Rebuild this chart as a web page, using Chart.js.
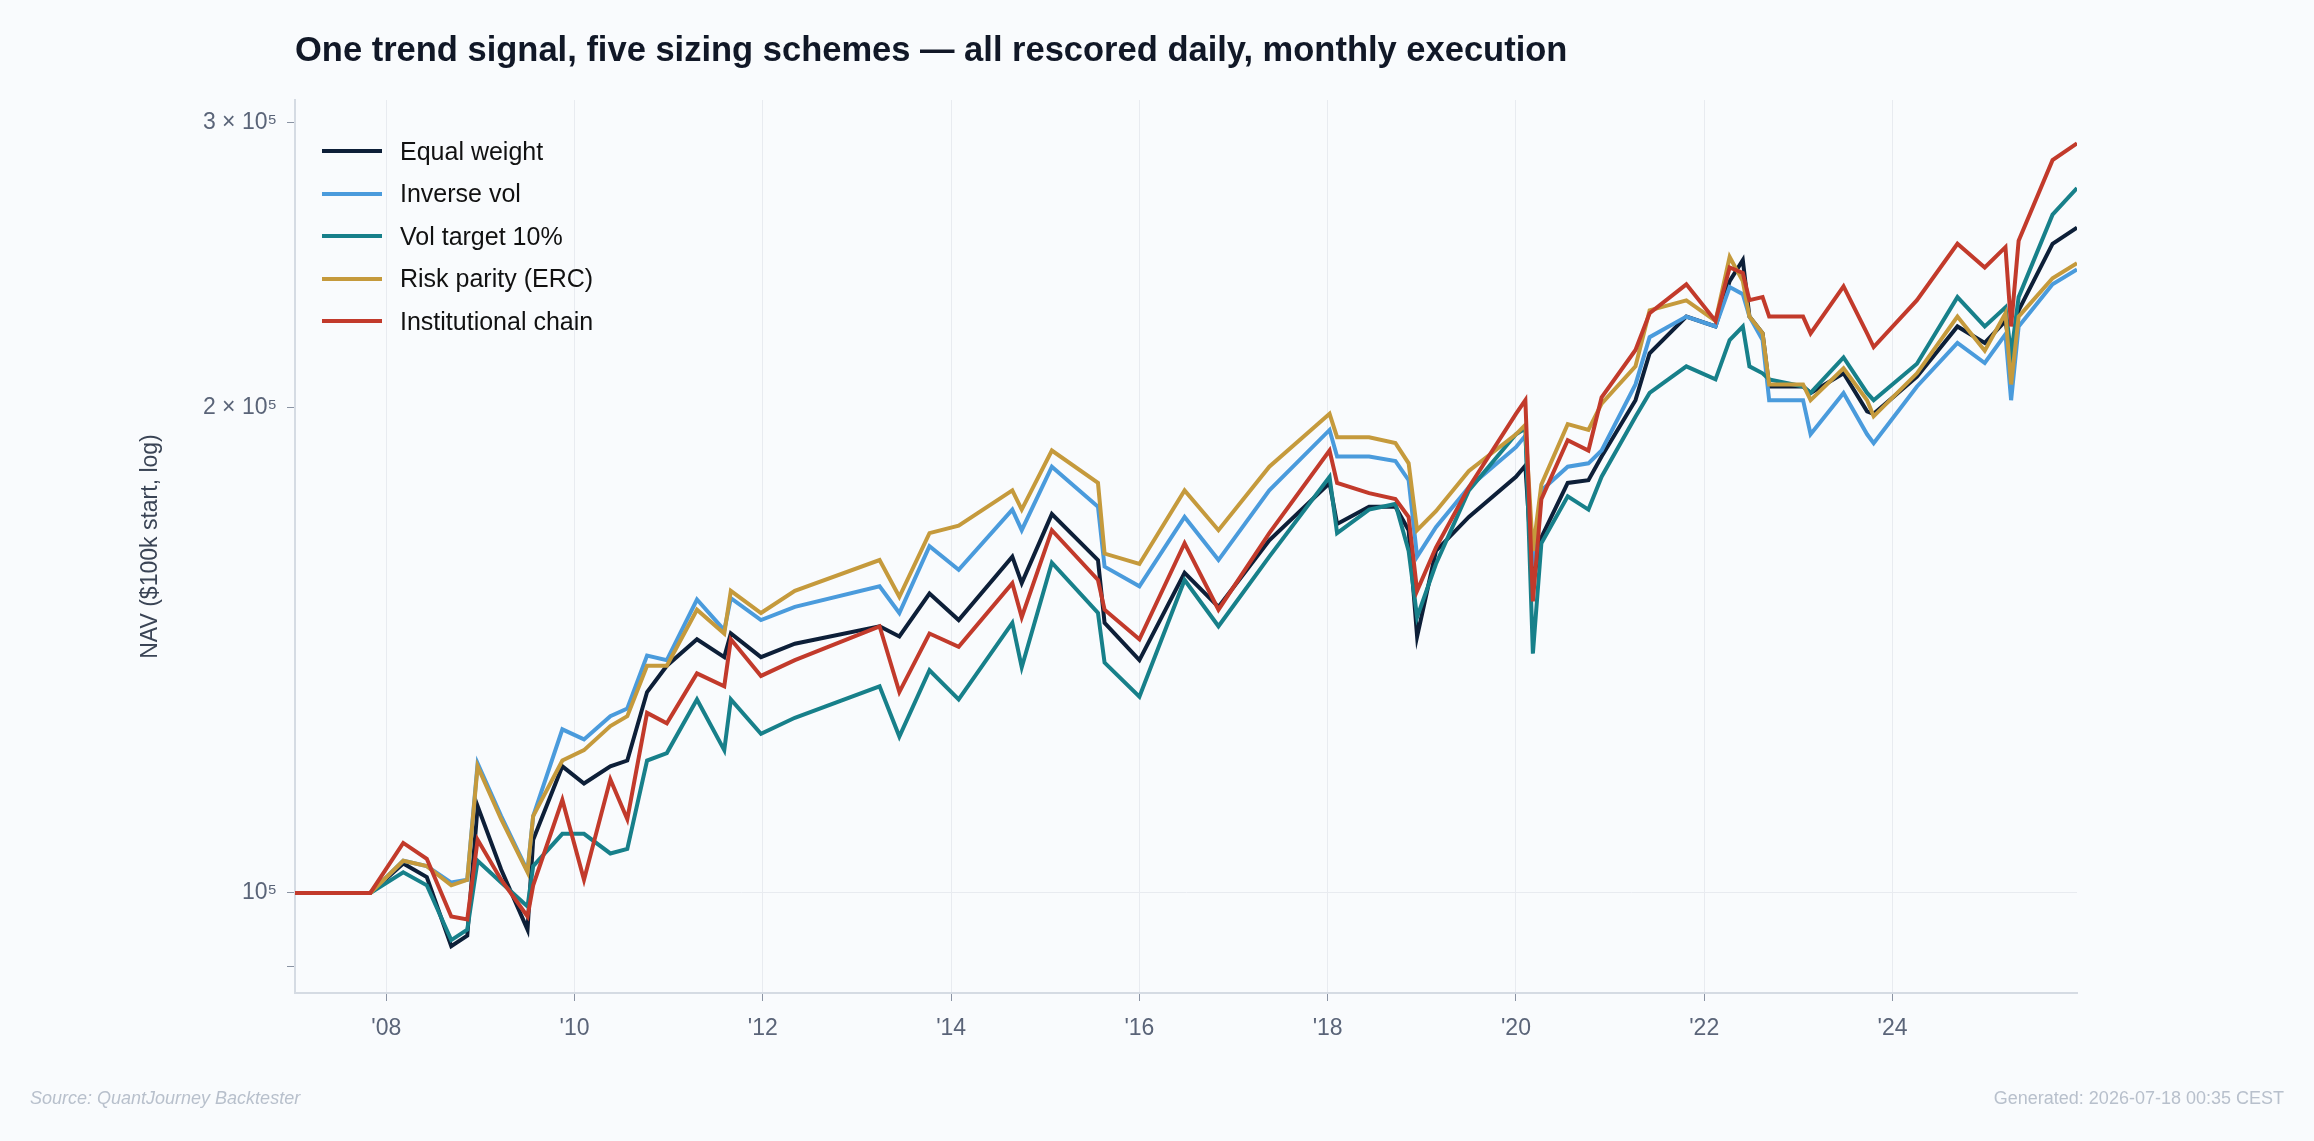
<!DOCTYPE html>
<html>
<head>
<meta charset="utf-8">
<script src="https://cdn.jsdelivr.net/npm/chart.js@4.4.1/dist/chart.umd.min.js"></script>
<style>
  html, body { margin: 0; padding: 0; background: #f9fbfd; width: 2314px; height: 1141px; overflow: hidden; font-family: "Liberation Sans", Arial, sans-serif; }
  #wrap { position: absolute; left: 0; top: 0; width: 2314px; height: 1141px; }
  #title { position: absolute; left: 295px; top: 30px; font-size: 34.5px; font-weight: bold; color: #111827; }
  #legend { position: absolute; left: 322px; top: 130px; }
  .row { height: 42.5px; display: flex; align-items: center; font-size: 25px; color: #111; }
  .sw { width: 60px; height: 4px; margin-right: 18px; }
  #src { position: absolute; left: 30px; top: 1088px; font-size: 18px; font-style: italic; color: #b8c0cc; }
  #gen { position: absolute; right: 30px; top: 1088px; font-size: 18px; color: #b8c0cc; }
</style>
</head>
<body>
<div id="wrap"><canvas id="nav"></canvas></div>
<div id="title">One trend signal, five sizing schemes — all rescored daily, monthly execution</div>
<div id="legend"></div>
<div id="src">Source: QuantJourney Backtester</div>
<div id="gen">Generated: 2026-07-18 00:35 CEST</div>
<script>
// NAV in $ thousands
const years = [2007.03, 2007.83, 2008.18, 2008.43, 2008.69, 2008.86, 2008.97, 2009.22, 2009.5, 2009.56,
  2009.87, 2010.1, 2010.38, 2010.56, 2010.77, 2010.98, 2011.3, 2011.59, 2011.66, 2011.98,
  2012.34, 2013.24, 2013.45, 2013.77, 2014.08, 2014.65, 2014.75, 2015.07, 2015.56, 2015.63,
  2016.0, 2016.48, 2016.84, 2017.38, 2018.02, 2018.1, 2018.44, 2018.72, 2018.86, 2018.95,
  2019.15, 2019.5, 2020.0, 2020.1, 2020.18, 2020.27, 2020.55, 2020.77, 2020.91, 2021.27,
  2021.42, 2021.81, 2022.12, 2022.27, 2022.41, 2022.48, 2022.62, 2022.69, 2023.05, 2023.13,
  2023.48, 2023.73, 2023.8, 2024.26, 2024.69, 2024.98, 2025.2, 2025.26, 2025.34, 2025.7, 2025.96];

const equalWeight = [100, 100, 104.3, 102.3, 92.7, 94.1, 113.2, 103.4, 94.9, 107.9,
  119.8, 116.9, 119.8, 120.8, 133.2, 138.3, 143.6, 140.0, 144.8, 140.0,
  142.7, 146.3, 144.2, 153.3, 147.6, 161.6, 155.6, 171.7, 160.8, 147.0,
  139.4, 157.9, 150.4, 165.4, 179.5, 169.3, 173.5, 173.5, 167.8, 144.2,
  162.9, 171.0, 181.1, 184.0, 155.6, 166.1, 179.5, 180.2, 186.4, 202.0,
  216.0, 227.6, 224.4, 239.4, 246.7, 227.6, 222.2, 206.0, 206.0, 204.1,
  209.9, 198.8, 198.1, 208.9, 224.4, 219.2, 226.2, 215.5, 229.6, 252.5, 258.4];

const inverseVol = [100, 100, 104.7, 103.9, 101.5, 101.9, 120.3, 111.6, 103.2, 111.6,
  126.3, 124.5, 128.7, 130.1, 140.3, 139.4, 152.0, 145.5, 152.3, 147.6,
  150.4, 154.9, 149.1, 164.0, 158.6, 172.8, 167.8, 183.7, 173.5, 159.3,
  154.9, 171.0, 160.8, 177.6, 193.6, 186.4, 186.4, 185.2, 180.2, 161.6,
  168.5, 178.4, 188.9, 192.0, 159.3, 177.6, 183.7, 184.6, 188.0, 206.6,
  221.0, 227.6, 224.4, 237.4, 235.0, 227.6, 220.1, 202.0, 202.0, 192.4,
  204.1, 192.4, 190.0, 206.0, 219.2, 213.0, 221.9, 202.0, 224.4, 238.3, 243.4];

const volTarget = [100, 100, 103.0, 101.1, 93.5, 94.9, 104.7, 101.5, 98.1, 103.9,
  108.8, 108.8, 105.8, 106.5, 120.8, 122.1, 131.8, 122.6, 131.8, 125.5,
  128.4, 134.3, 125.0, 137.4, 131.8, 147.0, 138.0, 160.2, 149.1, 138.9,
  132.3, 156.3, 146.3, 161.6, 181.1, 167.1, 172.8, 174.2, 162.9, 148.2,
  159.9, 177.6, 192.4, 194.0, 140.7, 164.7, 176.1, 172.8, 181.1, 197.3,
  204.1, 212.0, 208.1, 220.1, 224.4, 212.0, 209.9, 208.1, 206.0, 204.1,
  214.7, 204.1, 202.0, 212.8, 234.0, 224.4, 230.6, 215.5, 234.0, 263.2, 273.4];

const riskParity = [100, 100, 104.7, 103.9, 101.1, 101.9, 119.8, 111.1, 103.0, 111.6,
  120.8, 122.6, 126.9, 128.7, 138.3, 138.3, 149.8, 144.8, 153.9, 149.1,
  153.9, 160.8, 152.6, 167.1, 168.9, 177.6, 172.8, 188.0, 179.5, 162.3,
  159.9, 177.6, 167.8, 183.7, 198.1, 191.6, 191.6, 190.0, 184.6, 167.8,
  172.4, 182.6, 192.4, 195.0, 162.9, 179.1, 195.2, 193.6, 201.0, 212.0,
  229.6, 232.9, 226.2, 247.8, 239.4, 227.6, 222.2, 206.6, 206.6, 202.0,
  211.4, 202.0, 197.4, 209.9, 227.6, 216.8, 228.7, 206.6, 227.6, 240.4, 245.6];

const institutional = [100, 100, 107.4, 105.0, 96.7, 96.3, 107.9, 101.9, 96.7, 101.1,
  114.2, 101.9, 117.6, 111.1, 129.3, 127.4, 136.8, 134.3, 143.6, 136.3,
  139.4, 146.3, 133.2, 144.8, 142.1, 155.6, 148.2, 167.8, 156.3, 149.8,
  143.6, 164.7, 149.8, 167.1, 188.0, 179.5, 176.9, 175.4, 171.0, 153.9,
  163.7, 178.4, 198.1, 202.0, 151.6, 175.4, 190.8, 188.0, 202.8, 217.0,
  228.7, 238.3, 226.2, 244.1, 242.2, 233.0, 234.0, 227.6, 227.6, 222.2,
  237.6, 222.2, 217.9, 233.0, 252.5, 244.1, 251.3, 224.4, 253.6, 284.5, 291.4];

const seriesNames = ['Equal weight', 'Inverse vol', 'Vol target 10%', 'Risk parity (ERC)', 'Institutional chain'];
const seriesColors = ['#0d1f38', '#4a9bdc', '#17808a', '#c59a3c', '#c23a2b'];
const seriesData = [equalWeight, inverseVol, volTarget, riskParity, institutional];
const yTicks = [90000, 100000, 200000, 300000];
const yTickLabels = { 100000: '10⁵', 200000: '2 × 10⁵', 300000: '3 × 10⁵' };
const xTicks = [2008, 2010, 2012, 2014, 2016, 2018, 2020, 2022, 2024];

const legend = document.getElementById('legend');
seriesNames.forEach((n, i) => {
  legend.innerHTML += '<div class="row"><div class="sw" style="background:' + seriesColors[i] + '"></div>' + n + '</div>';
});

const datasets = seriesNames.map((n, i) => ({
  label: n,
  data: years.map((x, j) => ({ x: x, y: seriesData[i][j] * 1000 })),
  borderColor: seriesColors[i],
  borderWidth: 4,
  pointRadius: 0,
  tension: 0,
  order: 5 - i
}));

const tickFont = { family: 'Liberation Sans', size: 23 };

new Chart(document.getElementById('nav'), {
  type: 'line',
  data: { datasets: datasets },
  options: {
    responsive: true,
    maintainAspectRatio: false,
    animation: false,
    layout: { padding: { top: 100, right: 237, left: 137, bottom: 0 } },
    plugins: { legend: { display: false }, tooltip: { enabled: false } },
    scales: {
      x: {
        type: 'linear',
        min: 2007.03,
        max: 2025.96,
        afterBuildTicks: s => { s.ticks = xTicks.map(v => ({ value: v })); },
        afterFit: s => { s.height = 148; },
        ticks: { callback: v => "'" + String(v).slice(2), color: '#5a6478', font: tickFont, padding: 14 },
        grid: { color: '#e8ebf0', tickColor: '#8a93a3', tickLength: 8 },
        border: { color: '#d5dbe3', width: 2 }
      },
      y: {
        type: 'logarithmic',
        min: 86700,
        max: 310000,
        afterBuildTicks: s => { s.ticks = yTicks.map(v => ({ value: v })); },
        afterFit: s => { s.width = 158; },
        ticks: { callback: v => yTickLabels[v] || '', color: '#5a6478', font: tickFont, padding: 10 },
        grid: {
          color: ctx => (ctx.tick && ctx.tick.value === 100000) ? '#e8ebf0' : 'rgba(0,0,0,0)',
          tickColor: '#8a93a3', tickLength: 8
        },
        border: { color: '#d5dbe3', width: 2 },
        title: { display: true, text: 'NAV ($100k start, log)', color: '#3a4455', font: { family: 'Liberation Sans', size: 23 }, padding: 0 }
      }
    }
  }
});
</script>
</body>
</html>
